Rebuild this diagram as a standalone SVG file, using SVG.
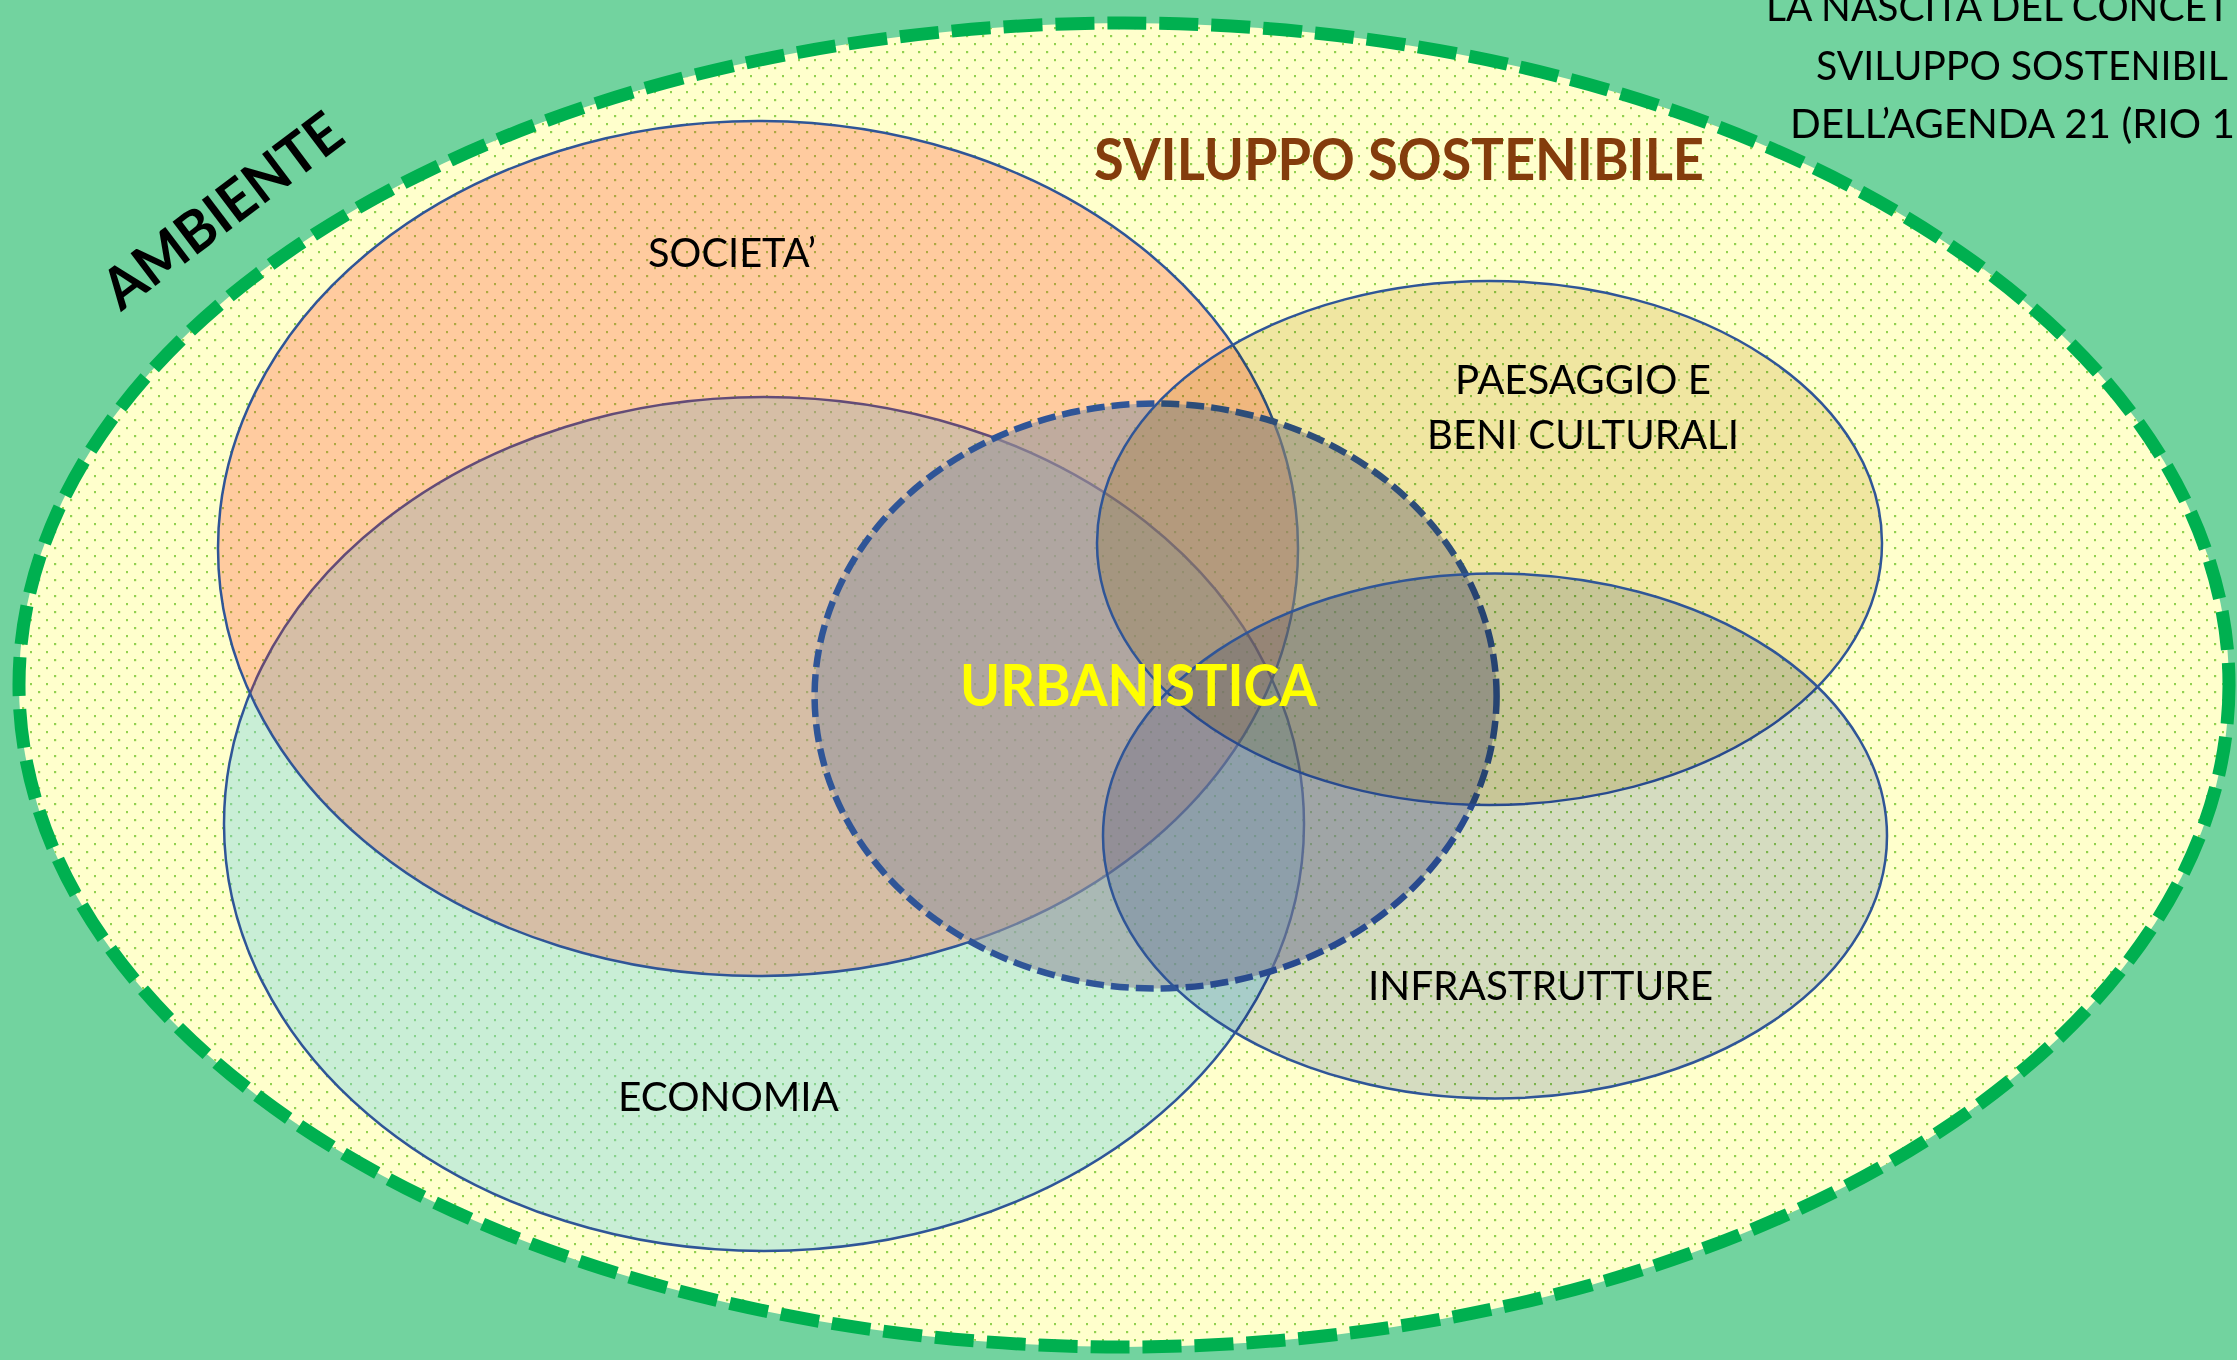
<svg xmlns="http://www.w3.org/2000/svg" width="2237" height="1360" viewBox="0 0 2237 1360">
  <defs>
    <pattern id="dots" width="16" height="16" patternUnits="userSpaceOnUse">
      <rect x="6" y="3" width="2.2" height="2.2" fill="#92d050"/>
      <rect x="14" y="11" width="2.2" height="2.2" fill="#92d050"/>
    </pattern>
    <style>
      .lbl { font-family: Lato, "Liberation Sans", sans-serif; font-size: 41px; fill: #000; }
      .bold { font-family: Lato, "Liberation Sans", sans-serif; font-weight: 700; }
      .edge { fill: none; stroke: #2f5597; stroke-width: 2.5; }
      .mult { mix-blend-mode: multiply; }
    </style>
  </defs>

  <rect x="0" y="0" width="2237" height="1360" fill="#72d39f"/>

  <g id="ambiente">
    <ellipse cx="1124" cy="685" rx="1105" ry="662" fill="#ffffcc"/>
    <ellipse cx="1124" cy="685" rx="1105" ry="662" fill="url(#dots)"/>
  </g>

  <g id="economia">
    <ellipse cx="764" cy="824" rx="540" ry="427" fill="#78d4e5" fill-opacity="0.4"/>
    <ellipse class="edge" cx="764" cy="824" rx="540" ry="427"/>
  </g>

  <g id="societa">
    <ellipse cx="758" cy="548.5" rx="540" ry="427.5" fill="#ff2f18" fill-opacity="0.25"/>
    <ellipse class="edge" cx="758" cy="548.5" rx="540" ry="427.5"/>
  </g>

  <g id="urbanistica">
    <ellipse cx="1155.6" cy="696" rx="341" ry="292.5" fill="#96969e" fill-opacity="0.6" stroke="#2f5597" stroke-width="6.5" stroke-dasharray="18 7"/>
  </g>

  <g id="paesaggio">
    <ellipse class="mult" cx="1489.5" cy="543" rx="392.5" ry="262" fill="#f0e6ca"/>
    <ellipse class="edge" cx="1489.5" cy="543" rx="392.5" ry="262"/>
  </g>

  <g id="infrastrutture">
    <ellipse class="mult" cx="1495" cy="836" rx="392" ry="262.5" fill="#d5dcf0"/>
    <ellipse class="edge" cx="1495" cy="836" rx="392" ry="262.5"/>
  </g>

  <g id="ambiente-border">
    <ellipse cx="1124" cy="685" rx="1105" ry="662" fill="none" stroke="#00b050" stroke-width="13" stroke-dasharray="39 13"/>
  </g>

  <g id="labels">
    <text class="lbl" x="648" y="267" textLength="168" lengthAdjust="spacingAndGlyphs">SOCIETA’</text>
    <text class="lbl" x="1455" y="394" textLength="256" lengthAdjust="spacingAndGlyphs">PAESAGGIO E</text>
    <text class="lbl" x="1427" y="449" textLength="312" lengthAdjust="spacingAndGlyphs">BENI CULTURALI</text>
    <text class="lbl" x="1368" y="1000" textLength="345" lengthAdjust="spacingAndGlyphs">INFRASTRUTTURE</text>
    <text class="lbl" x="618" y="1111" textLength="221" lengthAdjust="spacingAndGlyphs">ECONOMIA</text>
    <text class="bold" x="1094" y="180" font-size="57" fill="#843c0c" textLength="610" lengthAdjust="spacingAndGlyphs">SVILUPPO SOSTENIBILE</text>
    <text class="bold" x="960" y="706" font-size="57" fill="#ffff00" textLength="357" lengthAdjust="spacingAndGlyphs">URBANISTICA</text>
    <text class="bold" x="121" y="312" font-size="57" font-weight="900" fill="#000" textLength="284" lengthAdjust="spacingAndGlyphs" transform="rotate(-37 121 312)">AMBIENTE</text>
  </g>

  <g id="titolo">
    <text class="lbl" x="1766" y="21" textLength="464" lengthAdjust="spacingAndGlyphs">LA NASCITA DEL CONCET</text>
    <text class="lbl" x="1816" y="80" textLength="412" lengthAdjust="spacingAndGlyphs">SVILUPPO SOSTENIBIL</text>
    <text class="lbl" x="1790" y="138" textLength="445" lengthAdjust="spacingAndGlyphs">DELL’AGENDA 21 (RIO 1</text>
  </g>
</svg>
